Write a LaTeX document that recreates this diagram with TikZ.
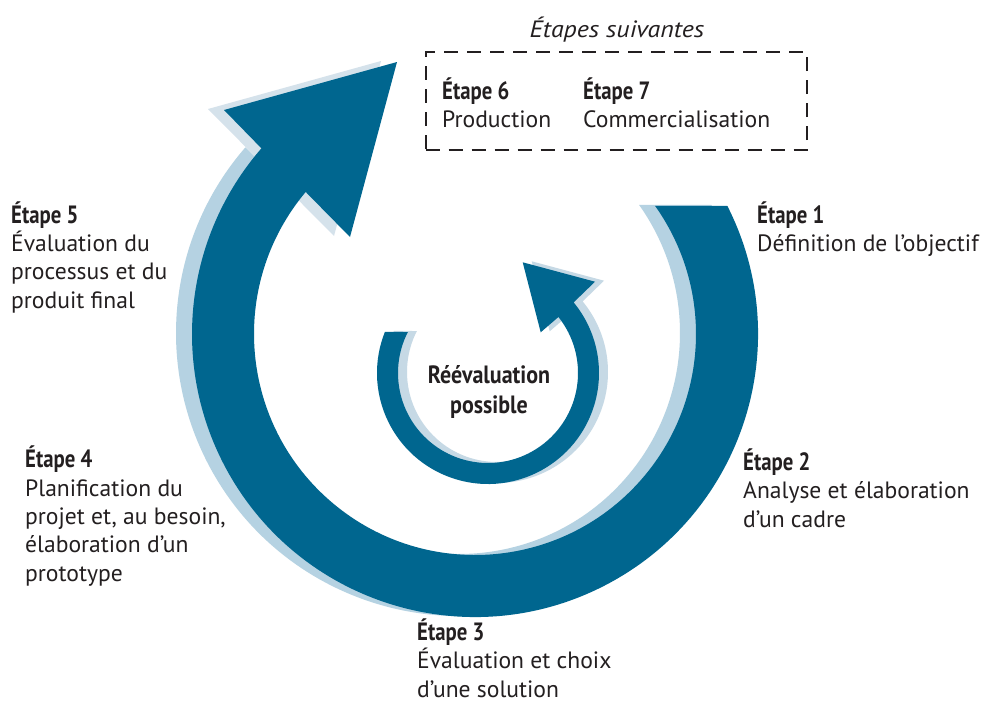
\documentclass[tikz,border=0pt]{standalone}
\usepackage{fontspec}
\setmainfont{PT Sans}
\newfontfamily\cbf[FakeStretch=0.83]{PT Sans}
\newfontfamily\cbfr[FakeStretch=0.88]{PT Sans}
\newfontfamily\itwide[FakeStretch=1.1]{PT Sans}
\usetikzlibrary{calc}
\definecolor{dkblue}{HTML}{00668F}
\definecolor{shband}{HTML}{B5D2E2}
\definecolor{shhead}{HTML}{D5E2EB}
\definecolor{shinner}{HTML}{C6D9E5}
\definecolor{txt}{HTML}{231F20}
\newcommand\etp[1]{{\fontsize{25}{28.3}\cbf\bfseries #1}}
\begin{document}
\begin{tikzpicture}[x=1pt,y=-1pt,
  lbl/.style={anchor=base west, inner sep=0pt, align=left, text=txt,
              font=\fontsize{23.6}{28.3}\selectfont},
  dashbox/.style={draw=txt, line width=2pt, dash pattern=on 14pt off 9pt,
              minimum width=381pt, minimum height=98pt, inner sep=0pt}]
\fill[white] (0,0) rectangle (987,704);
\useasboundingbox (0,0) rectangle (987,704);

\coordinate (C1) at (475,334);
\coordinate (C2) at (488,373);
% outer arrow head points
\coordinate (hb1) at (224,110);
\coordinate (ht)  at (397,62);
\coordinate (hb2) at (350,237);
% inner arrow head points
\coordinate (ib1) at (595,281.7);
\coordinate (it)  at (522.7,262.3);
\coordinate (ib2) at (540.7,332.3);

% ---- outer arrow shadow
\begin{scope}[transform canvas={shift={(-16,-1)}}]
  \fill[shband] (C1) ++(-26.9:283) arc[start angle=-26.9, end angle=221, radius=283]
     -- ($(C1)+(220:221)$) arc[start angle=220, end angle=-35.4, radius=221] -- cycle;
  \fill[shhead] (hb1) -- (ht) -- (hb2) -- cycle;
\end{scope}
% ---- outer arrow
\fill[dkblue] (C1) ++(-26.9:283) arc[start angle=-26.9, end angle=221, radius=283]
   -- (hb1) -- (ht) -- (hb2)
   -- ($(C1)+(220:221)$) arc[start angle=220, end angle=-35.4, radius=221] -- cycle;

% ---- inner arrow shadow
\begin{scope}[transform canvas={shift={(9,-1)}}]
  \fill[shinner] (C2) ++(201.7:111) arc[start angle=201.7, end angle=-39.5, radius=111]
     -- (ib1) -- (it) -- (ib2)
     -- ($(C2)+(-38.5:90)$) arc[start angle=-38.5, end angle=207.1, radius=90] -- cycle;
\end{scope}
% ---- inner arrow
\fill[dkblue] (C2) ++(201.7:111) arc[start angle=201.7, end angle=-39.5, radius=111]
   -- (ib1) -- (it) -- (ib2)
   -- ($(C2)+(-38.5:90)$) arc[start angle=-38.5, end angle=207.1, radius=90] -- cycle;

% ---- texts (anchor = baseline of the last line)
\node[anchor=base, inner sep=0pt, text=txt, font=\fontsize{23.6}{28.3}\selectfont\itwide\itshape] (title) at (617,37) {Étapes suivantes};
\node[dashbox] (box) at (616,101) {};
\node[lbl] (s6) at (442,127.5) {\etp{Étape 6}\\Production};
\node[lbl] (s7) at (583,127.5) {\etp{Étape 7}\\Commercialisation};

\node[lbl] (s1) at (757,251.5) {\etp{Étape 1}\\Définition de l’objectif};
\node[lbl] (s2) at (743,527) {\etp{Étape 2}\\Analyse et élaboration\\d’un cadre};
\node[lbl] (s3) at (417,697) {\etp{Étape 3}\\Évaluation et choix\\d’une solution};
\node[lbl] (s4) at (25,581) {\etp{Étape 4}\\Planification du\\projet et, au besoin,\\élaboration d’un\\prototype};
\node[lbl] (s5) at (11,308) {\etp{Étape 5}\\Évaluation du\\processus et du\\produit final};

\node[anchor=base, inner sep=0pt, align=center, text=txt,
      font=\fontsize{25}{30}\selectfont\cbfr\bfseries] (re) at (489,413) {Réévaluation\\possible};
\end{tikzpicture}
\end{document}
